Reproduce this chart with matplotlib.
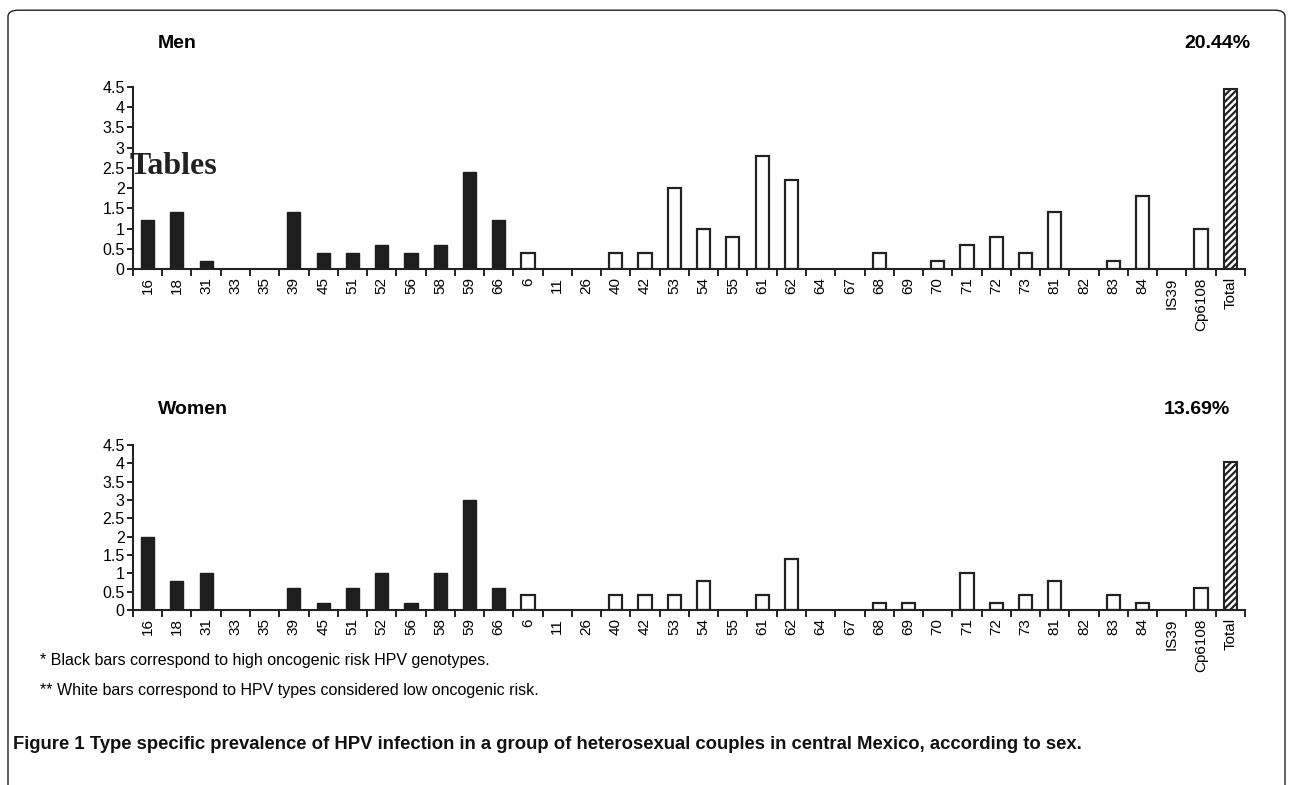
import matplotlib
matplotlib.use("Agg")
import matplotlib.pyplot as plt
from matplotlib.patches import FancyBboxPatch
import numpy as np

plt.rcParams['font.family'] = ['Liberation Sans', 'DejaVu Sans']
plt.rcParams['hatch.linewidth'] = 1.6

types = ['16', '18', '31', '33', '35', '39', '45', '51', '52', '56', '58', '59', '66',
         '6', '11', '26', '40', '42', '53', '54', '55', '61', '62', '64', '67', '68',
         '69', '70', '71', '72', '73', '81', '82', '83', '84', 'IS39', 'Cp6108', 'Total']
n_high = 13  # first 13 types are high risk (black bars)

men = [1.2, 1.4, 0.2, 0, 0, 1.4, 0.4, 0.4, 0.6, 0.4, 0.6, 2.4, 1.2,
       0.4, 0, 0, 0.4, 0.4, 2.0, 1.0, 0.8, 2.8, 2.2, 0, 0, 0.4,
       0, 0.2, 0.6, 0.8, 0.4, 1.4, 0, 0.2, 1.8, 0, 1.0, 4.45]
women = [2.0, 0.8, 1.0, 0, 0, 0.6, 0.2, 0.6, 1.0, 0.2, 1.0, 3.0, 0.6,
         0.4, 0, 0, 0.4, 0.4, 0.4, 0.8, 0, 0.4, 1.4, 0, 0, 0.2,
         0.2, 0, 1.0, 0.2, 0.4, 0.8, 0, 0.4, 0.2, 0, 0.6, 4.05]

panels = [("Men", "20.44%", men), ("Women", "13.69%", women)]
yticks = [0, 0.5, 1, 1.5, 2, 2.5, 3, 3.5, 4, 4.5]

fig = plt.figure(figsize=(12.92, 7.85), dpi=100)

# frame around the figure (bottom edge falls outside the image)
frame = FancyBboxPatch((8 / 1292, -0.05), 1277 / 1292, 1.037,
                       boxstyle="round,pad=0,rounding_size=0.008",
                       transform=fig.transFigure, fill=False, lw=1.0,
                       edgecolor='#222222')
fig.patches.append(frame)

axes_pos = [[0.1029, 0.6573, 0.8607, 0.2318], [0.1029, 0.2229, 0.8607, 0.2102]]
title_y = [0.945, 0.478]
pct_x = [0.968, 0.952]

x = np.arange(len(types))
for (name, pct, vals), pos, ty, px in zip(panels, axes_pos, title_y, pct_x):
    ax = fig.add_axes(pos)
    for i, v in enumerate(vals):
        if types[i] == 'Total':
            ax.bar(i, v, width=0.45, facecolor='white', edgecolor='#222222',
                   hatch='/////', lw=1.5)
        elif i < n_high:
            ax.bar(i, v, width=0.45, facecolor='#1e1e1e', edgecolor='#1e1e1e', lw=1)
        elif v > 0:
            ax.bar(i, v, width=0.45, facecolor='white', edgecolor='#222222', lw=1.6)
    ax.set_xlim(-0.5, len(types) - 0.5)
    ax.set_ylim(0, 4.5)
    ax.set_yticks(yticks)
    ax.set_yticklabels([f"{t:g}" for t in yticks], fontsize=11.5)
    ax.set_xticks(x)
    ax.set_xticklabels(types, rotation=90, fontsize=11)
    ax.set_xticks(np.arange(-0.5, len(types)), minor=True)
    ax.tick_params(axis='x', which='major', length=0, pad=6)
    ax.tick_params(axis='x', which='minor', length=5, width=1.2, direction='out')
    ax.tick_params(axis='y', length=4, width=1.2, pad=2)
    for s in ['top', 'right']:
        ax.spines[s].set_visible(False)
    for s in ['left', 'bottom']:
        ax.spines[s].set_linewidth(1.5)
        ax.spines[s].set_color('#222222')
    fig.text(0.122, ty, name, fontsize=14, fontweight='bold', ha='left', va='center')
    fig.text(px, ty, pct, fontsize=14, fontweight='bold', ha='right', va='center')

fig.text(130 / 1292, 1 - 166 / 785, "Tables", fontsize=23, fontweight='bold',
         family='Liberation Serif', color='#222222', va='center', ha='left')

fig.text(0.031, 0.159, "* Black bars correspond to high oncogenic risk HPV genotypes.",
         fontsize=11.5, ha='left', va='center')
fig.text(0.031, 0.121, "** White bars correspond to HPV types considered low oncogenic risk.",
         fontsize=11.5, ha='left', va='center')
fig.text(0.010, 0.051,
         "Figure 1 Type specific prevalence of HPV infection in a group of "
         "heterosexual couples in central Mexico, according to sex.",
         fontsize=13.3, fontweight='bold', ha='left', va='center', color='#111111')

fig.savefig("out.png", dpi=100)
